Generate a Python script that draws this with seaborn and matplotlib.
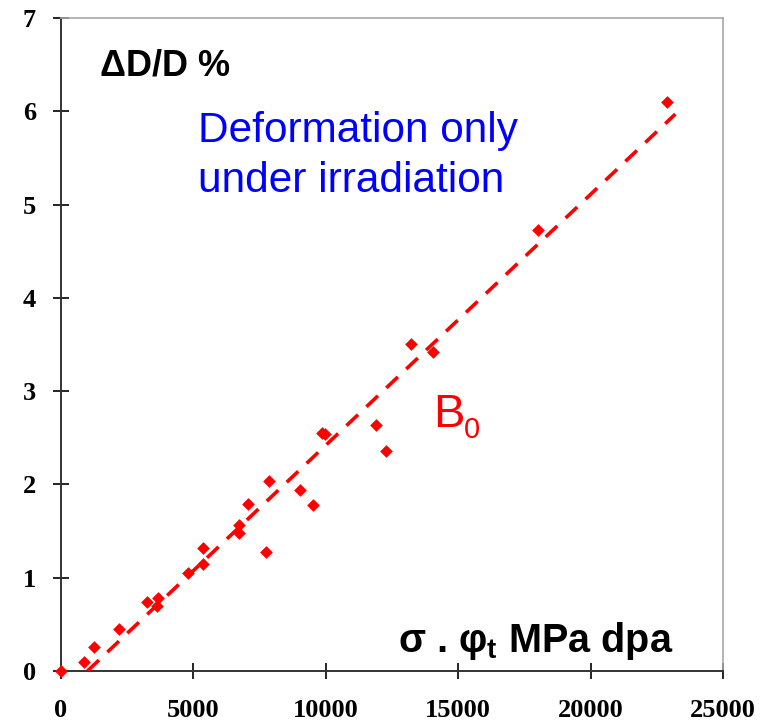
import matplotlib
matplotlib.use("Agg")
import matplotlib.pyplot as plt
import seaborn as sns
import pandas as pd

# Measured swelling data: stress x dose vs. diameter change
stress_dose = [0, 880, 1230, 2190, 3230, 3650, 3640, 4780, 5360, 5360,
               6720, 6720, 7060, 7760, 7850, 9020, 9510, 9850, 9980,
               11900, 12290, 13220, 14040, 18010, 22870]
delta_d = [0.00, 0.10, 0.26, 0.45, 0.74, 0.78, 0.70, 1.05, 1.32, 1.15,
           1.57, 1.48, 1.79, 1.28, 2.04, 1.94, 1.78, 2.55, 2.54,
           2.64, 2.36, 3.51, 3.42, 4.73, 6.10]

# Linear trend line (irradiation creep coefficient B0)
fit_x = [1000, 23200]
fit_y = [0.0, 5.97]

x_ticks = [0, 5000, 10000, 15000, 20000, 25000]
y_ticks = [0, 1, 2, 3, 4, 5, 6, 7]

sns.set_theme(style="white")
plt.rcParams["font.family"] = ["Liberation Sans", "DejaVu Sans"]
plt.rcParams["mathtext.fontset"] = "custom"
plt.rcParams["mathtext.rm"] = "Liberation Sans"
plt.rcParams["mathtext.bf"] = "Liberation Sans:bold"
plt.rcParams["mathtext.it"] = "Liberation Sans:italic"

W, H = 771, 721
fig = plt.figure(figsize=(W / 100, H / 100), dpi=100)
ax = fig.add_axes([61 / W, 50 / H, 662 / W, 653 / H])

pts = pd.DataFrame({"x": stress_dose, "y": delta_d})
fit = pd.DataFrame({"x": fit_x, "y": fit_y})

sns.lineplot(data=fit, x="x", y="y", ax=ax, color="#ff0000", linewidth=2.6,
             dashes=False, zorder=3)
ax.lines[-1].set_dashes([4.4, 3.2])
ax.lines[-1].set_solid_capstyle("butt")

sns.scatterplot(data=pts, x="x", y="y", ax=ax, marker="D", color="#ff0000",
                s=42, linewidth=0, zorder=5, clip_on=False)

ax.set_xlim(0, 25000)
ax.set_ylim(0, 7)
ax.set_xticks(x_ticks)
ax.set_yticks(y_ticks)
ax.set_xticklabels([str(v) for v in x_ticks])
ax.set_yticklabels([str(v) for v in y_ticks])
ax.set_xlabel("")
ax.set_ylabel("")

for lab in ax.get_xticklabels() + ax.get_yticklabels():
    lab.set_fontfamily("Liberation Serif")
    lab.set_fontweight("bold")
    lab.set_fontsize(19)
    lab.set_color("black")

ax.tick_params(axis="both", direction="inout", length=12, width=1.2,
               color="black", bottom=True, left=True)
ax.tick_params(axis="x", pad=14)
ax.tick_params(axis="y", pad=12)

for side in ("left", "bottom"):
    ax.spines[side].set_color("#333333")
    ax.spines[side].set_linewidth(1.4)
for side in ("top", "right"):
    ax.spines[side].set_color("#a8a8a8")
    ax.spines[side].set_linewidth(1.2)

ax.grid(False)

# Axis titles placed inside the plotting area
fig.text(100 / W, 1 - 75 / H, "ΔD/D %", fontsize=26, fontweight="bold",
         color="black", va="baseline", ha="left")
ax.text(12720, 0.204, r"σ . φ$_{\mathbf{t}}$ MPa dpa", fontsize=28.5,
        fontweight="bold", color="black", va="baseline", ha="left")

# Annotations
ax.text(5170, 5.67, "Deformation only", fontsize=30.5, color="#0000ff",
        va="baseline", ha="left")
ax.text(5170, 5.135, "under irradiation", fontsize=30.5, color="#0000ff",
        va="baseline", ha="left")
ax.text(14040, 2.615, "B", fontsize=34, color="#ff0000",
        va="baseline", ha="left")
ax.text(15230, 2.497, "0", fontsize=21, color="#ff0000",
        va="baseline", ha="left")

fig.savefig("out.png", dpi=100)
